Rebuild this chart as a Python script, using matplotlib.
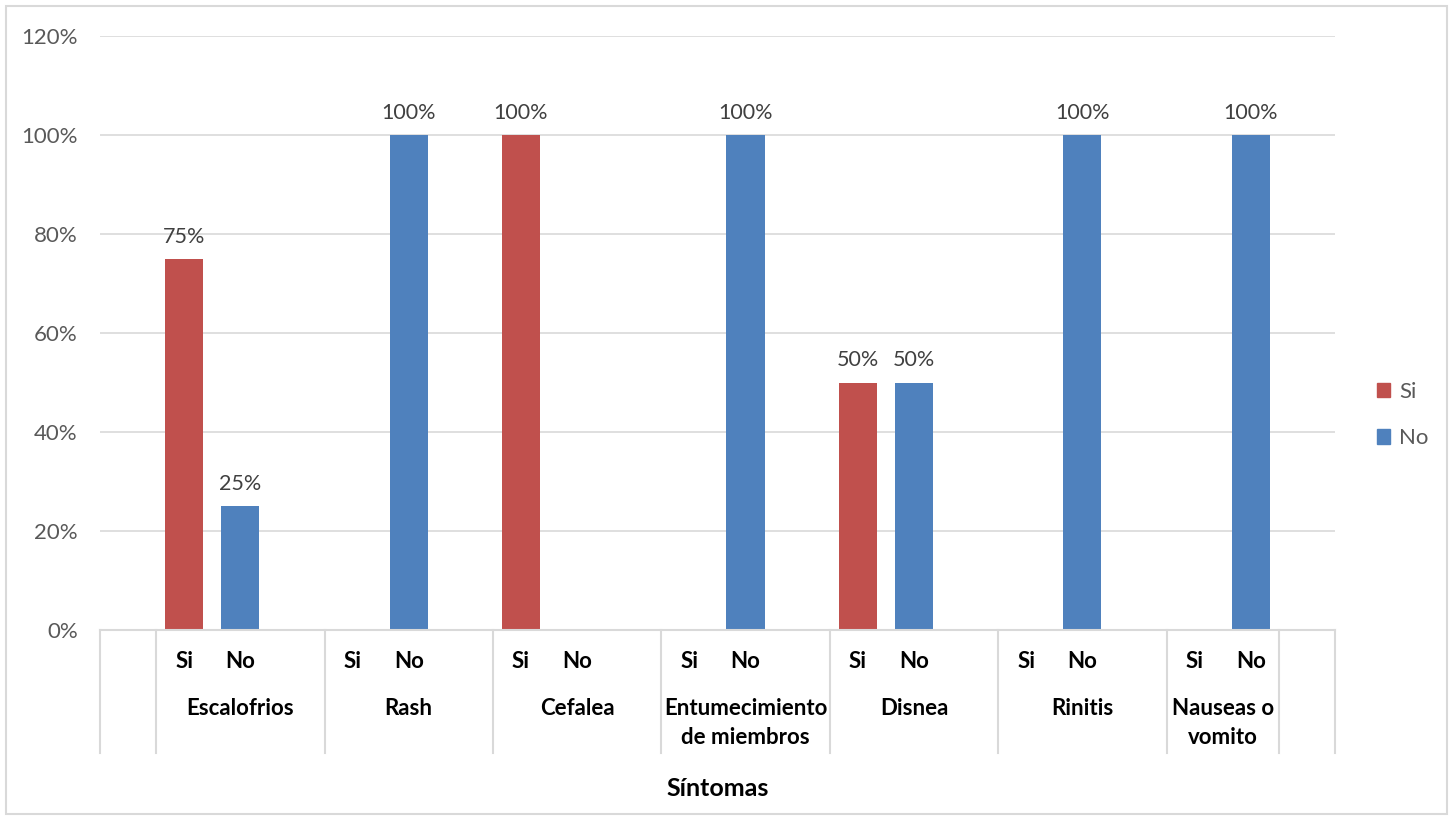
import numpy as np
import matplotlib
matplotlib.use('Agg')
import matplotlib.pyplot as plt
from matplotlib.patches import Rectangle, Patch

plt.rcParams['font.family'] = ['Lato', 'DejaVu Sans']

########################### Data ###########################
groups = ['Escalofrios', 'Rash', 'Cefalea', 'Entumecimiento\nde miembros',
          'Disnea', 'Rinitis', 'Nauseas o\nvomito']
si_vals = [75, None, 100, None, 50, None, None]
no_vals = [25, 100, None, 100, 50, 100, 100]
yticks = [0, 20, 40, 60, 80, 100, 120]

RED = '#C0504D'
BLUE = '#4F81BD'
GRID = '#D9D9D9'

########################### Layout ###########################
# one blank slot, then [Si, No, blank] per group, last group without trailing blank, one blank at end
n_slots = 22
si_pos, no_pos, centers, dividers = [], [], [], [0, 1]
for g in range(len(groups)):
    s = 1 + 3 * g
    si_pos.append(s + 0.5)
    no_pos.append(s + 1.5)
    width = 3 if g < len(groups) - 1 else 2
    centers.append(s + width / 2)
    dividers.append(s + width)
dividers.append(n_slots)

W, H = 1452, 816
fig = plt.figure(figsize=(W / 100, H / 100), dpi=100)
ax = fig.add_axes([100 / W, (H - 630) / H, 1235 / W, 594 / H])

bw = 0.68
for x, v in zip(si_pos, si_vals):
    if v is None:
        continue
    ax.bar(x, v, width=bw, color=RED, zorder=3)
    ax.annotate('%d%%' % v, (x, v), xytext=(0, 12), textcoords='offset pixels',
                ha='center', va='bottom', fontsize=15.5, color='#404040')
for x, v in zip(no_pos, no_vals):
    if v is None:
        continue
    ax.bar(x, v, width=bw, color=BLUE, zorder=3)
    ax.annotate('%d%%' % v, (x, v), xytext=(0, 12), textcoords='offset pixels',
                ha='center', va='bottom', fontsize=15.5, color='#404040')

ax.set_xlim(0, n_slots)
ax.set_ylim(0, 120)
ax.set_yticks(yticks)
ax.set_yticklabels(['%d%%' % t for t in yticks], fontsize=16, color='#595959')
ax.tick_params(axis='y', length=0, pad=16)
ax.set_xticks([])
ax.grid(axis='y', color=GRID, lw=1.2, zorder=0)
for s in ['top', 'right', 'left']:
    ax.spines[s].set_visible(False)
ax.spines['bottom'].set_color(GRID)
ax.spines['bottom'].set_linewidth(1.5)
ax.spines['bottom'].set_zorder(4)

# category axis
xt = ax.get_xaxis_transform()
for d in dividers:
    ax.plot([d, d], [0, -123 / 594], transform=xt, color=GRID, lw=1.5, clip_on=False)
for x in si_pos:
    ax.annotate('Si', (x, 0), xycoords=xt, xytext=(0, -31), textcoords='offset pixels',
                ha='center', va='center', fontsize=16, fontweight='bold')
for x in no_pos:
    ax.annotate('No', (x, 0), xycoords=xt, xytext=(0, -31), textcoords='offset pixels',
                ha='center', va='center', fontsize=16, fontweight='bold')
for x, name in zip(centers, groups):
    ax.annotate(name, (x, 0), xycoords=xt, xytext=(0, -68), textcoords='offset pixels',
                ha='center', va='top', fontsize=16, fontweight='bold', linespacing=1.45)

ax.annotate('Síntomas', (0.5, 0), xycoords='axes fraction', xytext=(0, -158),
            textcoords='offset pixels', ha='center', va='center', fontsize=18, fontweight='bold')

handles = [Patch(color=RED), Patch(color=BLUE)]
ax.legend(handles, ['Si', 'No'], loc='center left', bbox_to_anchor=(1357 / W, (H - 415) / H),
          bbox_transform=fig.transFigure, frameon=False, fontsize=16, handlelength=0.6,
          handleheight=0.6, handletextpad=0.4, labelspacing=1.2, labelcolor='#595959')

fig.patches.append(Rectangle((6 / W, 2 / H), 1441 / W, 808 / H, transform=fig.transFigure,
                             fill=False, edgecolor=GRID, lw=1.5))

fig.savefig('out.png', dpi=100)
